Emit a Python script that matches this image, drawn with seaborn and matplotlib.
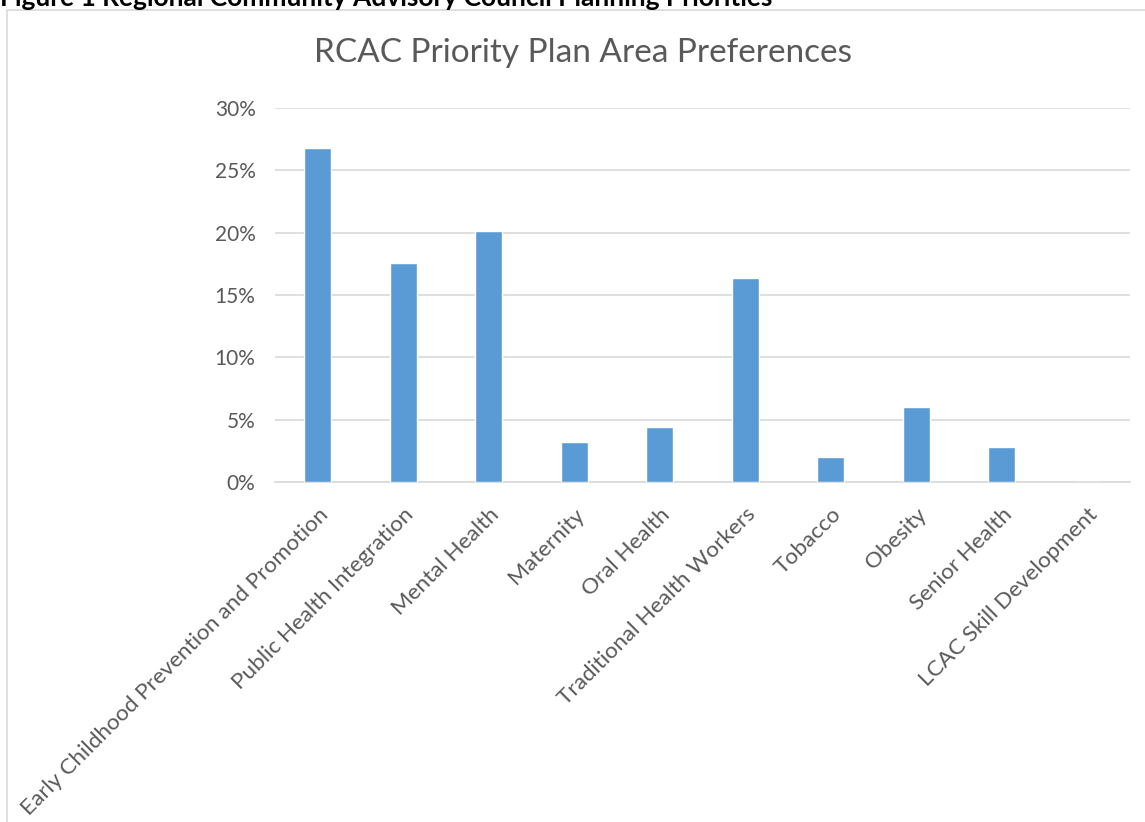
import matplotlib
matplotlib.use("Agg")
import matplotlib.pyplot as plt
import matplotlib.patches as mpatches
from matplotlib.ticker import PercentFormatter
import pandas as pd
import seaborn as sns

# Dados
categorias = [
    "Early Childhood Prevention and Promotion",
    "Public Health Integration",
    "Mental Health",
    "Maternity",
    "Oral Health",
    "Traditional Health Workers",
    "Tobacco",
    "Obesity",
    "Senior Health",
    "LCAC Skill Development",
]
percentuais = [0.268, 0.176, 0.201, 0.032, 0.044, 0.164, 0.020, 0.060, 0.028, 0.0]
ticks_y = [0, 0.05, 0.10, 0.15, 0.20, 0.25, 0.30]

df = pd.DataFrame({"categoria": categorias, "valor": percentuais})

sns.set_style("white")
plt.rcParams["font.family"] = ["Lato", "DejaVu Sans"]

cinza = "#595959"
fig = plt.figure(figsize=(11.45, 8.22), dpi=100)
ax = fig.add_axes([275 / 1145, 1 - 482 / 822, 855 / 1145, 374 / 822])

sns.barplot(x="categoria", y="valor", data=df, color="#5B9BD5", width=0.31,
            saturation=1, ax=ax, zorder=3)

ax.set_ylim(0, 0.30)
ax.set_yticks(ticks_y)
ax.yaxis.set_major_formatter(PercentFormatter(1.0, decimals=0))
ax.grid(axis="y", color="#d9d9d9", linewidth=1.2, zorder=0)
ax.set_axisbelow(True)
for lado in ["top", "right", "left"]:
    ax.spines[lado].set_visible(False)
ax.spines["bottom"].set_color("#d9d9d9")
ax.spines["bottom"].set_linewidth(1.2)
ax.set_xlabel("")
ax.set_ylabel("")
ax.tick_params(axis="y", length=0, pad=14, labelsize=15, labelcolor=cinza)
ax.tick_params(axis="x", length=0, pad=16, labelsize=16.2, labelcolor=cinza)
plt.setp(ax.get_xticklabels(), rotation=45, ha="right", rotation_mode="anchor")

# Título centrado na figura
fig.text(583 / 1145, 1 - 53 / 822, "RCAC Priority Plan Area Preferences",
         fontsize=24, color=cinza, ha="center", va="center")

# Moldura do gráfico e legenda da figura cortada no topo
fig.patches.append(mpatches.Rectangle((7 / 1145, -0.01), 1.1, 1 - 10 / 822 + 0.01,
                                      transform=fig.transFigure, fill=False,
                                      edgecolor="#d9d9d9", linewidth=1.2))
fig.text(0.0, 1 - 6 / 822, "Figure 1 Regional Community Advisory Council Planning Priorities",
         fontsize=19, fontweight="bold", color="black", va="baseline", ha="left")

fig.savefig("out.png", dpi=100)
